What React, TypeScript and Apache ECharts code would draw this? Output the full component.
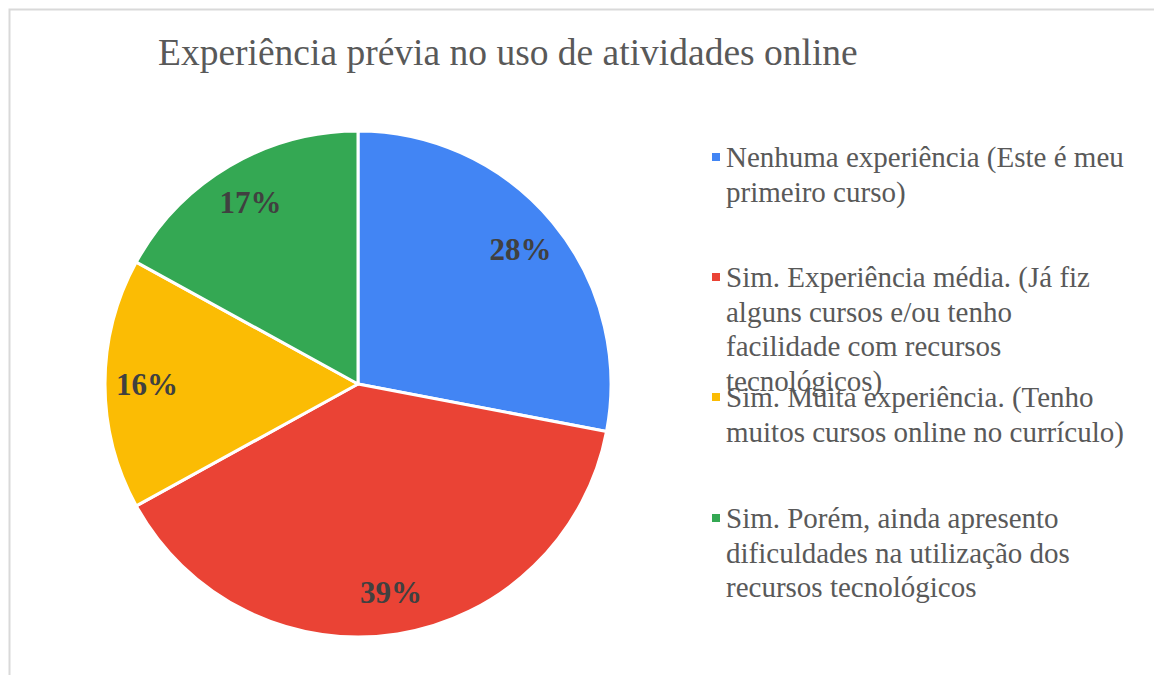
import React, { useEffect, useRef } from "react";
import * as echarts from "echarts";

const categories = [
  "Nenhuma experiência (Este é meu primeiro curso)",
  "Sim. Experiência média. (Já fiz alguns cursos e/ou tenho facilidade com recursos tecnológicos)",
  "Sim. Muita experiência. (Tenho muitos cursos online no currículo)",
  "Sim. Porém, ainda apresento dificuldades na utilização dos recursos tecnológicos",
];
const legendLines = [
  ["Nenhuma experiência (Este é meu", "primeiro curso)"],
  ["Sim. Experiência média. (Já fiz", "alguns cursos e/ou tenho", "facilidade com recursos", "tecnológicos)"],
  ["Sim. Muita experiência. (Tenho", "muitos cursos online no currículo)"],
  ["Sim. Porém, ainda apresento", "dificuldades na utilização dos", "recursos tecnológicos"],
];
const values = [28, 39, 16, 17];
const colors = ["#4285F4", "#EA4335", "#FBBC04", "#34A853"];
const title = "Experiência prévia no uso de atividades online";

const FONT = "'Liberation Serif', 'Times New Roman', serif";
const LH = 34.5;
const legendFirstLineY = [157, 277, 397, 518];

export default function App() {
  const ref = useRef<HTMLDivElement>(null);
  useEffect(() => {
    if (!ref.current) return;
    const chart = echarts.init(ref.current, undefined, { renderer: "svg" });
    const data = categories.map((c, i) => ({ name: c, value: values[i], itemStyle: { color: colors[i] } }));
    const legends = categories.map((c, i) => {
      const n = legendLines[i].length;
      // blank lines above so that the marker lines up with the first text line
      const text = "\n".repeat(n - 1) + legendLines[i].join("\n");
      return {
        orient: "vertical",
        left: 710,
        top: legendFirstLineY[i] - LH / 2 - (n - 1) * LH,
        padding: 0,
        icon: "rect",
        itemWidth: 10,
        itemHeight: 10,
        selectedMode: false,
        data: [c],
        formatter: () => text,
        textStyle: {
          fontFamily: FONT,
          fontSize: 29,
          color: "#595959",
          lineHeight: LH,
        },
      };
    });
    chart.setOption({
      animation: false,
      backgroundColor: "#ffffff",
      title: {
        text: title,
        left: 158,
        top: 31,
        padding: 0,
        textStyle: { fontFamily: FONT, fontSize: 37.5, fontWeight: "normal", color: "#595959", lineHeight: 42 },
      },
      legend: legends,
      graphic: [
        {
          type: "rect",
          shape: { x: 9.5, y: 9.5, width: 1200, height: 800 },
          style: { fill: "none", stroke: "#d9d9d9", lineWidth: 2 },
          silent: true,
        },
      ],
      series: [
        {
          type: "pie",
          center: [358, 384],
          radius: [0, 253],
          startAngle: 90,
          clockwise: true,
          label: { show: false },
          labelLine: { show: false },
          itemStyle: { borderColor: "#ffffff", borderWidth: 3 },
          emphasis: { disabled: true },
          data,
        },
        {
          type: "pie",
          center: [358, 384],
          radius: [164, 252],
          startAngle: 90,
          clockwise: true,
          silent: true,
          itemStyle: { color: "rgba(0,0,0,0)" },
          label: {
            show: true,
            position: "inside",
            formatter: (p: any) => `${p.value}%`,
            fontFamily: FONT,
            fontSize: 31,
            fontWeight: "bold",
            color: "#404040",
          },
          labelLine: { show: false },
          emphasis: { disabled: true },
          data: categories.map((c, i) => ({ name: c + " ", value: values[i] })),
        },
      ],
    });
    return () => chart.dispose();
  }, []);
  return (
    <div
      ref={ref}
      style={{ position: "fixed", left: 0, top: 0, width: 1154, height: 675 }}
    />
  );
}
